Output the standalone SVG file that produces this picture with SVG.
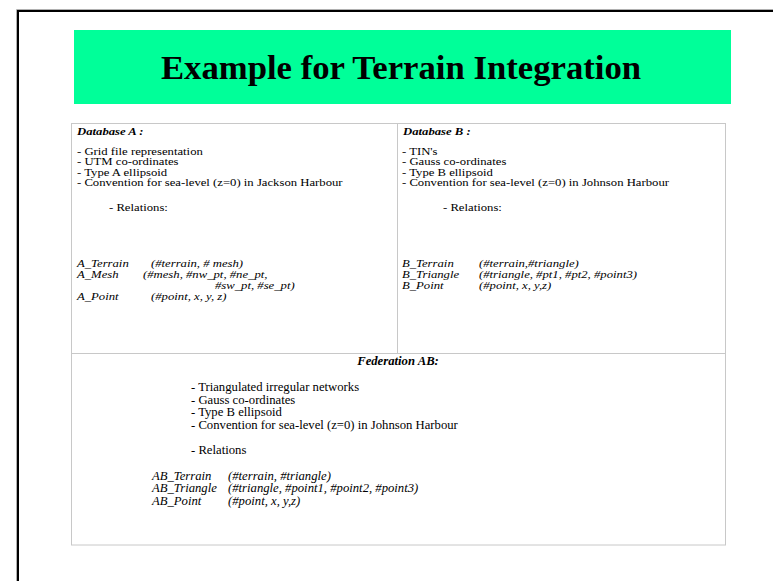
<svg xmlns="http://www.w3.org/2000/svg" width="773" height="581" viewBox="0 0 773 581">
  <style>
    .t { font-family: "Liberation Serif", "Times New Roman", serif; font-size: 12.7px; fill: #000; }
    .i { font-style: italic; }
    .b { font-weight: bold; }
    .title { font-family: "Liberation Serif", "Times New Roman", serif; font-size: 34.7px; font-weight: bold; fill: #000; }
    .grid { fill: none; stroke: #c8c8c8; stroke-width: 1; }
  </style>

  <!-- page -->
  <rect x="0" y="0" width="773" height="581" fill="#fff"/>

  <!-- slide frame (runs off the right and bottom edges) -->
  <g id="frame">
    <path d="M16.5 600 V9.5 H800" fill="none" stroke="#b0b0b0" stroke-width="1"/>
    <path d="M18 600 V11 H800" fill="none" stroke="#000" stroke-width="2"/>
  </g>

  <!-- heading banner -->
  <g id="title">
    <rect x="74" y="30" width="657" height="74" fill="#00ff99"/>
    <text class="title" x="401" y="79" text-anchor="middle">Example for Terrain Integration</text>
  </g>

  <!-- table rules -->
  <g id="grid" class="grid">
    <rect x="71.5" y="123.5" width="654" height="421.5"/>
    <line x1="397.5" y1="123.5" x2="397.5" y2="353.5"/>
    <line x1="71.5" y1="353.5" x2="725.5" y2="353.5"/>
  </g>

  <!-- upper cells: the embedded table is squeezed vertically, so y values are divided by 0.82 -->
  <g transform="scale(1 0.82)">
    <g id="databaseA" class="t">
      <text class="t b i" x="77" y="164.6">Database A :</text>
      <text x="77" y="189">- Grid file representation</text>
      <text x="77" y="201.6">- UTM co-ordinates</text>
      <text x="77" y="214.2">- Type A ellipsoid</text>
      <text x="77" y="226.7">- Convention for sea-level (z=0) in Jackson Harbour</text>
      <text x="109" y="257.3">- Relations:</text>
      <g class="i">
        <text x="77" y="325.6">A_Terrain</text>
        <text x="151" y="325.6">(#terrain, # mesh)</text>
        <text x="77" y="339">A_Mesh</text>
        <text x="143" y="339">(#mesh, #nw_pt, #ne_pt,</text>
        <text x="215" y="352.4">#sw_pt, #se_pt)</text>
        <text x="77" y="365.9">A_Point</text>
        <text x="151" y="365.9">(#point, x, y, z)</text>
      </g>
    </g>

    <g id="databaseB" class="t">
      <text class="t b i" x="403" y="164.6">Database B :</text>
      <text x="402" y="189">- TIN's</text>
      <text x="402" y="201.6">- Gauss co-ordinates</text>
      <text x="402" y="214.2">- Type B ellipsoid</text>
      <text x="402" y="226.7">- Convention for sea-level (z=0) in Johnson Harbour</text>
      <text x="443" y="257.3">- Relations:</text>
      <g class="i">
        <text x="402" y="325.6">B_Terrain</text>
        <text x="479" y="325.6">(#terrain,#triangle)</text>
        <text x="402" y="339">B_Triangle</text>
        <text x="479" y="339">(#triangle, #pt1, #pt2, #point3)</text>
        <text x="402" y="352.4">B_Point</text>
        <text x="479" y="352.4">(#point, x, y,z)</text>
      </g>
    </g>
  </g>

  <!-- lower cell -->
  <g id="federationAB" class="t">
    <text class="t b i" x="398" y="365" text-anchor="middle">Federation AB:</text>
    <text x="191" y="391">- Triangulated irregular networks</text>
    <text x="191" y="403.5">- Gauss co-ordinates</text>
    <text x="191" y="416">- Type B ellipsoid</text>
    <text x="191" y="428.5">- Convention for sea-level (z=0) in Johnson Harbour</text>
    <text x="191" y="454">- Relations</text>
    <g class="i">
      <text x="152" y="479.5">AB_Terrain</text>
      <text x="228" y="479.5">(#terrain, #triangle)</text>
      <text x="152" y="492">AB_Triangle</text>
      <text x="228" y="492">(#triangle, #point1, #point2, #point3)</text>
      <text x="152" y="504.5">AB_Point</text>
      <text x="228" y="504.5">(#point, x, y,z)</text>
    </g>
  </g>
</svg>
